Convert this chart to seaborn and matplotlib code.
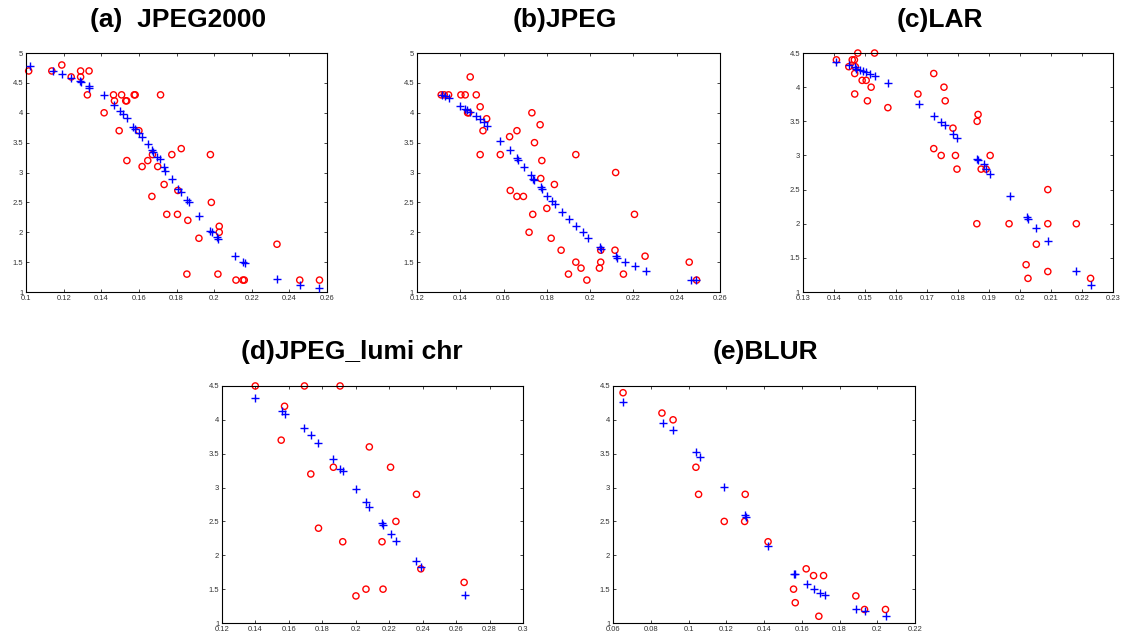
import numpy as np
import pandas as pd
import seaborn as sns
from matplotlib import pyplot as plt

# (a) JPEG2000
a_sub_x = [0.1014, 0.1137, 0.119, 0.124, 0.129, 0.1335, 0.129, 0.1326, 0.1415, 0.1465, 0.147, 0.1508,
           0.153, 0.1535, 0.1575, 0.158, 0.1495, 0.160, 0.1536, 0.1715, 0.1672, 0.1647, 0.1617, 0.170,
           0.1669, 0.1734, 0.1775, 0.1825, 0.1807, 0.1748, 0.1805, 0.186, 0.1919, 0.198, 0.1985,
           0.2027, 0.2027, 0.1855, 0.202, 0.2116, 0.2153, 0.216, 0.2334, 0.2455, 0.256]
a_sub_y = [4.7, 4.7, 4.8, 4.6, 4.7, 4.7, 4.6, 4.3, 4.0, 4.3, 4.2, 4.3,
           4.2, 4.2, 4.3, 4.3, 3.7, 3.7, 3.2, 4.3, 3.3, 3.2, 3.1, 3.1,
           2.6, 2.8, 3.3, 3.4, 2.7, 2.3, 2.3, 2.2, 1.9, 3.3, 2.5,
           2.1, 2.0, 1.3, 1.3, 1.2, 1.2, 1.2, 1.8, 1.2, 1.2]
a_obj_x = [0.102, 0.1142, 0.119, 0.124, 0.1287, 0.1292, 0.1332, 0.1337, 0.1415, 0.1465, 0.1497, 0.1514,
           0.1536, 0.157, 0.158, 0.160, 0.1615, 0.1646, 0.167, 0.1673, 0.1697, 0.171, 0.1735, 0.174,
           0.1775, 0.181, 0.1825, 0.1855, 0.1867, 0.1919, 0.198, 0.1986, 0.2017, 0.2023, 0.2112,
           0.2155, 0.2163, 0.2334, 0.2455, 0.256]
a_obj_y = [4.78, 4.7, 4.65, 4.58, 4.53, 4.51, 4.44, 4.42, 4.3, 4.13, 4.03, 3.98,
           3.92, 3.76, 3.73, 3.66, 3.6, 3.47, 3.37, 3.34, 3.26, 3.22, 3.09, 3.03,
           2.9, 2.73, 2.68, 2.54, 2.5, 2.28, 2.02, 2.0, 1.92, 1.88, 1.6,
           1.5, 1.49, 1.22, 1.12, 1.07]

# (b) JPEG
b_sub_x = [0.1312, 0.1326, 0.1346, 0.1403, 0.1423, 0.1446, 0.1474, 0.1434, 0.1439, 0.1492, 0.1522,
           0.1505, 0.1492, 0.1585, 0.1628, 0.1662, 0.1731, 0.1769, 0.1743, 0.1777, 0.1772, 0.1835,
           0.1631, 0.1662, 0.1692, 0.1735, 0.180, 0.1718, 0.182, 0.1866, 0.190, 0.1934, 0.1958,
           0.1985, 0.1934, 0.2043, 0.2049, 0.2049, 0.2118, 0.2115, 0.2154, 0.2205, 0.2254, 0.2458, 0.2492]
b_sub_y = [4.3, 4.3, 4.3, 4.3, 4.3, 4.6, 4.3, 4.0, 4.0, 4.1, 3.9,
           3.7, 3.3, 3.3, 3.6, 3.7, 4.0, 3.8, 3.5, 3.2, 2.9, 2.8,
           2.7, 2.6, 2.6, 2.3, 2.4, 2.0, 1.9, 1.7, 1.3, 1.5, 1.4,
           1.2, 3.3, 1.4, 1.5, 1.7, 3.0, 1.7, 1.3, 2.3, 1.6, 1.5, 1.2]
b_obj_x = [0.1315, 0.133, 0.1346, 0.140, 0.1423, 0.1431, 0.1443, 0.1474, 0.1492, 0.1511, 0.1523,
           0.1585, 0.1631, 0.1662, 0.1668, 0.1695, 0.1726, 0.1738, 0.1742, 0.1774, 0.1778, 0.1803,
           0.1823, 0.1838, 0.1869, 0.1903, 0.1935, 0.1965, 0.1988, 0.2046, 0.2049, 0.2118, 0.2122,
           0.2162, 0.2208, 0.2258, 0.2466, 0.2489]
b_obj_y = [4.3, 4.28, 4.25, 4.12, 4.06, 4.04, 4.02, 3.94, 3.89, 3.84, 3.78,
           3.53, 3.38, 3.24, 3.21, 3.1, 2.96, 2.9, 2.88, 2.75, 2.72, 2.61,
           2.52, 2.48, 2.34, 2.23, 2.1, 2.0, 1.91, 1.76, 1.72, 1.6, 1.57,
           1.5, 1.43, 1.36, 1.2, 1.2]

# (c) LAR
c_sub_x = [0.1408, 0.1448, 0.1459, 0.1466, 0.1469, 0.1477, 0.1531, 0.1467, 0.1491, 0.1504, 0.152,
           0.1467, 0.1508, 0.1574, 0.1671, 0.1722, 0.1755, 0.1759, 0.1784, 0.1865, 0.1862, 0.1722,
           0.1746, 0.1792, 0.1797, 0.1875, 0.1891, 0.1904, 0.1861, 0.1965, 0.209, 0.209, 0.2182,
           0.2053, 0.202, 0.2026, 0.209, 0.2228]
c_sub_y = [4.4, 4.3, 4.4, 4.4, 4.3, 4.5, 4.5, 4.2, 4.1, 4.1, 4.0,
           3.9, 3.8, 3.7, 3.9, 4.2, 4.0, 3.8, 3.4, 3.6, 3.5, 3.1,
           3.0, 3.0, 2.8, 2.8, 2.8, 3.0, 2.0, 2.0, 2.5, 2.0, 2.0,
           1.7, 1.4, 1.2, 1.3, 1.2]
c_obj_x = [0.1408, 0.1448, 0.1467, 0.1472, 0.1483, 0.1494, 0.1504, 0.1517, 0.1531, 0.1574, 0.1674,
           0.1722, 0.1746, 0.1757, 0.1784, 0.1797, 0.1861, 0.1866, 0.1883, 0.1891, 0.1904, 0.1967,
           0.2023, 0.2027, 0.2053, 0.209, 0.2182, 0.223]
c_obj_y = [4.37, 4.32, 4.29, 4.27, 4.25, 4.24, 4.22, 4.2, 4.16, 4.06, 3.76,
           3.58, 3.49, 3.44, 3.32, 3.26, 2.95, 2.93, 2.87, 2.8, 2.73, 2.41,
           2.1, 2.07, 1.94, 1.75, 1.31, 1.1]

# (d) JPEG_lumi chr
d_sub_x = [0.1399, 0.1693, 0.1906, 0.1574, 0.1554, 0.1731, 0.1866, 0.2081, 0.2208, 0.2363,
           0.224, 0.1777, 0.1922, 0.2157, 0.2061, 0.2163, 0.2001, 0.2389, 0.2648]
d_sub_y = [4.5, 4.5, 4.5, 4.2, 3.7, 3.2, 3.3, 3.6, 3.3, 2.9,
           2.5, 2.4, 2.2, 2.2, 1.5, 1.5, 1.4, 1.8, 1.6]
d_obj_x = [0.1399, 0.1558, 0.1578, 0.1693, 0.1733, 0.1777, 0.1866, 0.1906, 0.1926, 0.2001,
           0.2059, 0.2079, 0.2155, 0.2163, 0.2209, 0.224, 0.2363, 0.2393, 0.2652]
d_obj_y = [4.32, 4.13, 4.08, 3.88, 3.77, 3.66, 3.42, 3.28, 3.25, 2.98,
           2.78, 2.71, 2.48, 2.45, 2.31, 2.21, 1.91, 1.82, 1.42]

# (e) BLUR
e_sub_x = [0.0653, 0.0859, 0.0918, 0.1039, 0.1053, 0.1189, 0.130, 0.1297, 0.1421, 0.1556,
           0.1565, 0.1623, 0.1662, 0.1715, 0.169, 0.1886, 0.1932, 0.2043]
e_sub_y = [4.4, 4.1, 4.0, 3.3, 2.9, 2.5, 2.9, 2.5, 2.2, 1.5,
           1.3, 1.8, 1.7, 1.7, 1.1, 1.4, 1.2, 1.2]
e_obj_x = [0.0653, 0.0863, 0.0918, 0.1042, 0.1059, 0.1189, 0.130, 0.1304, 0.1421, 0.1556,
           0.1565, 0.1627, 0.1662, 0.1694, 0.1721, 0.1886, 0.1935, 0.2046]
e_obj_y = [4.26, 3.96, 3.85, 3.52, 3.45, 3.01, 2.6, 2.57, 2.13, 1.73,
           1.72, 1.58, 1.5, 1.45, 1.41, 1.21, 1.18, 1.1]

titles = ["(a)  JPEG2000", "(b)JPEG", "(c)LAR", "(d)JPEG_lumi chr", "(e)BLUR"]
xlims = [(0.1, 0.26), (0.12, 0.26), (0.13, 0.23), (0.12, 0.3), (0.06, 0.22)]
ylims = [(1, 5), (1, 5), (1, 4.5), (1, 4.5), (1, 4.5)]
xsteps = [0.02, 0.02, 0.01, 0.02, 0.02]

sns.set_style("white")
plt.rcParams['font.family'] = ['Liberation Sans', 'DejaVu Sans']

fig = plt.figure(figsize=(11.23, 6.39), dpi=100)

# axes boxes in figure fractions, titles positions
boxes = [(0.0232, 0.543, 0.268, 0.374), (0.3713, 0.543, 0.2698, 0.374), (0.715, 0.543, 0.276, 0.374),
         (0.1977, 0.025, 0.268, 0.371), (0.5459, 0.025, 0.269, 0.371)]
title_pos = [(0.1585, 0.968), (0.503, 0.968), (0.837, 0.968), (0.313, 0.449), (0.682, 0.449)]

data = [(a_sub_x, a_sub_y, a_obj_x, a_obj_y), (b_sub_x, b_sub_y, b_obj_x, b_obj_y),
        (c_sub_x, c_sub_y, c_obj_x, c_obj_y), (d_sub_x, d_sub_y, d_obj_x, d_obj_y),
        (e_sub_x, e_sub_y, e_obj_x, e_obj_y)]

for i, (sx, sy, ox, oy) in enumerate(data):
    ax = fig.add_axes(boxes[i])
    sub = pd.DataFrame({"x": sx, "y": sy})
    obj = pd.DataFrame({"x": ox, "y": oy})
    sns.scatterplot(data=sub, x="x", y="y", ax=ax, marker="o", s=20,
                    facecolors="none", edgecolor="red", linewidth=1.0, zorder=2, clip_on=False)
    sns.scatterplot(data=obj, x="x", y="y", ax=ax, marker="+", s=32,
                    color="blue", linewidth=1.0, zorder=3, clip_on=False)
    ax.set_xlim(*xlims[i])
    ax.set_ylim(*ylims[i])
    ax.set_xticks(np.arange(xlims[i][0], xlims[i][1] + 1e-9, xsteps[i]))
    ax.set_yticks(np.arange(ylims[i][0], ylims[i][1] + 1e-9, 0.5))
    ax.set_xticklabels([f"{t:g}" for t in ax.get_xticks()])
    ax.set_yticklabels([f"{t:g}" for t in ax.get_yticks()])
    ax.tick_params(direction="in", length=2, width=0.6, labelsize=5.5, labelcolor="#333333",
                   top=True, right=True, bottom=True, left=True, pad=2)
    ax.set_xlabel("")
    ax.set_ylabel("")
    for sp in ax.spines.values():
        sp.set_visible(True)
        sp.set_color("black")
        sp.set_linewidth(0.8)
    fig.text(title_pos[i][0], title_pos[i][1], titles[i], ha="center", va="center",
             fontsize=19, fontweight="bold", color="black")

fig.savefig("out.png", dpi=100)
